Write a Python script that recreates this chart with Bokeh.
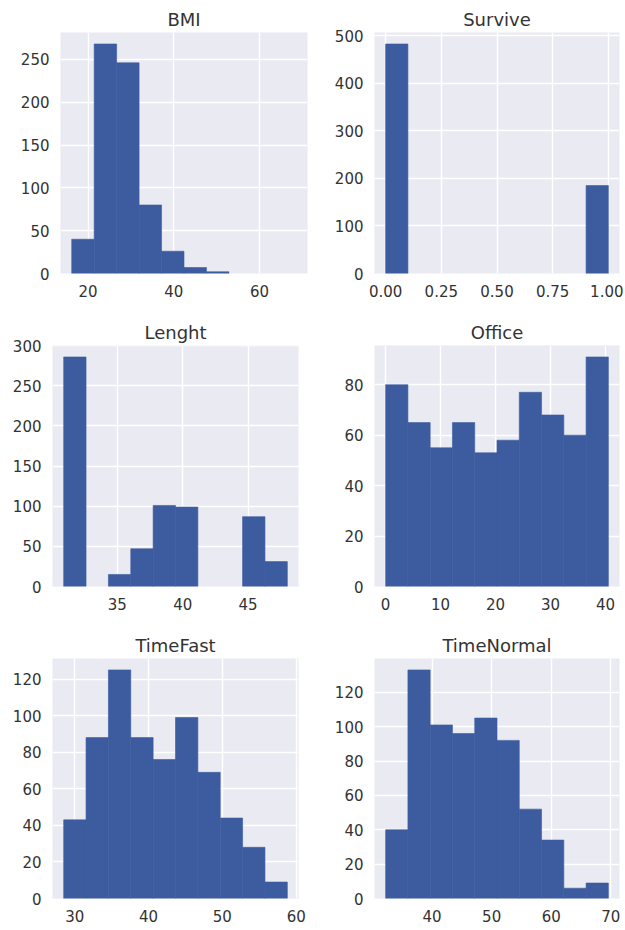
import numpy as np
from bokeh.plotting import figure
from bokeh.layouts import column, row
from bokeh.models import FixedTicker, NumeralTickFormatter, Range1d
from bokeh.embed import file_html
from bokeh.resources import INLINE

# ---- data (histogram counts, 10 bins each) ----
bmi_range = (16.2, 68.6)
bmi_counts = [40, 268, 246, 80, 26, 7, 2, 0, 0, 0]

survive_range = (0.0, 1.0)
survive_counts = [483, 0, 0, 0, 0, 0, 0, 0, 0, 185]

lenght_range = (30.9, 48.0)
lenght_counts = [286, 0, 15, 47, 101, 99, 0, 0, 87, 31]

office_range = (0.0, 40.5)
office_counts = [80, 65, 55, 65, 53, 58, 77, 68, 60, 91]

timefast_range = (28.5, 58.8)
timefast_counts = [43, 88, 125, 88, 76, 99, 69, 44, 28, 9]

timenormal_range = (32.2, 69.6)
timenormal_counts = [40, 133, 101, 96, 105, 92, 52, 34, 6, 9]

titles = ["BMI", "Survive", "Lenght", "Office", "TimeFast", "TimeNormal"]
x_ticks = [[20, 40, 60], [0, 0.25, 0.5, 0.75, 1.0], [35, 40, 45],
           [0, 10, 20, 30, 40], [30, 40, 50, 60], [40, 50, 60, 70]]
y_ticks = [[0, 50, 100, 150, 200, 250], [0, 100, 200, 300, 400, 500],
           [0, 50, 100, 150, 200, 250, 300], [0, 20, 40, 60, 80],
           [0, 20, 40, 60, 80, 100, 120], [0, 20, 40, 60, 80, 100, 120]]

ranges = [bmi_range, survive_range, lenght_range, office_range, timefast_range, timenormal_range]
counts = [bmi_counts, survive_counts, lenght_counts, office_counts, timefast_counts, timenormal_counts]

BAR = "#3C5C9F"
BG = "#EAEAF2"
TXT = "#333333"
FONT = "DejaVu Sans"

# layout geometry: (frame_w, frame_h, left, right, top, bottom)
geo = [
    (247, 241, 60, 5, 32, 43),
    (245, 241, 62, 4, 32, 43),
    (246, 241, 52, 14, 29, 43),
    (245, 241, 62, 4, 29, 43),
    (246, 240, 52, 14, 29, 28),
    (245, 240, 62, 4, 29, 28),
]


def make(i):
    lo, hi = ranges[i]
    c = np.asarray(counts[i], dtype=float)
    edges = np.linspace(lo, hi, len(c) + 1)
    span = hi - lo
    fw, fh, bl, br, bt, bb = geo[i]
    p = figure(frame_width=fw, frame_height=fh, output_backend="svg",
               toolbar_location=None, tools="",
               x_range=Range1d(lo - 0.05 * span, hi + 0.05 * span),
               y_range=Range1d(0, c.max() * 1.05),
               min_border_left=bl, min_border_right=br,
               min_border_top=bt, min_border_bottom=bb)
    p.title.text = titles[i]
    p.title.align = "center"
    p.title.text_font = FONT
    p.title.text_font_size = "18px"
    p.title.text_font_style = "normal"
    p.title.text_color = TXT
    p.title.standoff = 6
    p.background_fill_color = BG
    p.border_fill_color = "white"
    p.outline_line_color = None
    nz = c > 0
    p.quad(left=edges[:-1][nz], right=edges[1:][nz], top=c[nz], bottom=0,
           fill_color=BAR, line_color=BAR, line_width=0.6)
    for ax in (p.xaxis[0], p.yaxis[0]):
        ax.axis_line_color = None
        ax.major_tick_line_color = None
        ax.minor_tick_line_color = None
        ax.major_tick_out = 0
        ax.major_tick_in = 0
        ax.major_label_standoff = 11
        ax.major_label_text_font = FONT
        ax.major_label_text_font_size = "15px"
        ax.major_label_text_color = TXT
    p.xaxis.ticker = FixedTicker(ticks=x_ticks[i])
    p.yaxis.ticker = FixedTicker(ticks=y_ticks[i])
    if i == 1:
        p.xaxis.formatter = NumeralTickFormatter(format="0.00")
    p.xgrid.grid_line_color = "white"
    p.ygrid.grid_line_color = "white"
    p.xgrid.grid_line_width = 1.4
    p.ygrid.grid_line_width = 1.4
    return p


figs = [make(i) for i in range(6)]
layout = column(row(figs[0], figs[1]), row(figs[2], figs[3]), row(figs[4], figs[5]))

open("out.html", "w").write(file_html(layout, INLINE))
